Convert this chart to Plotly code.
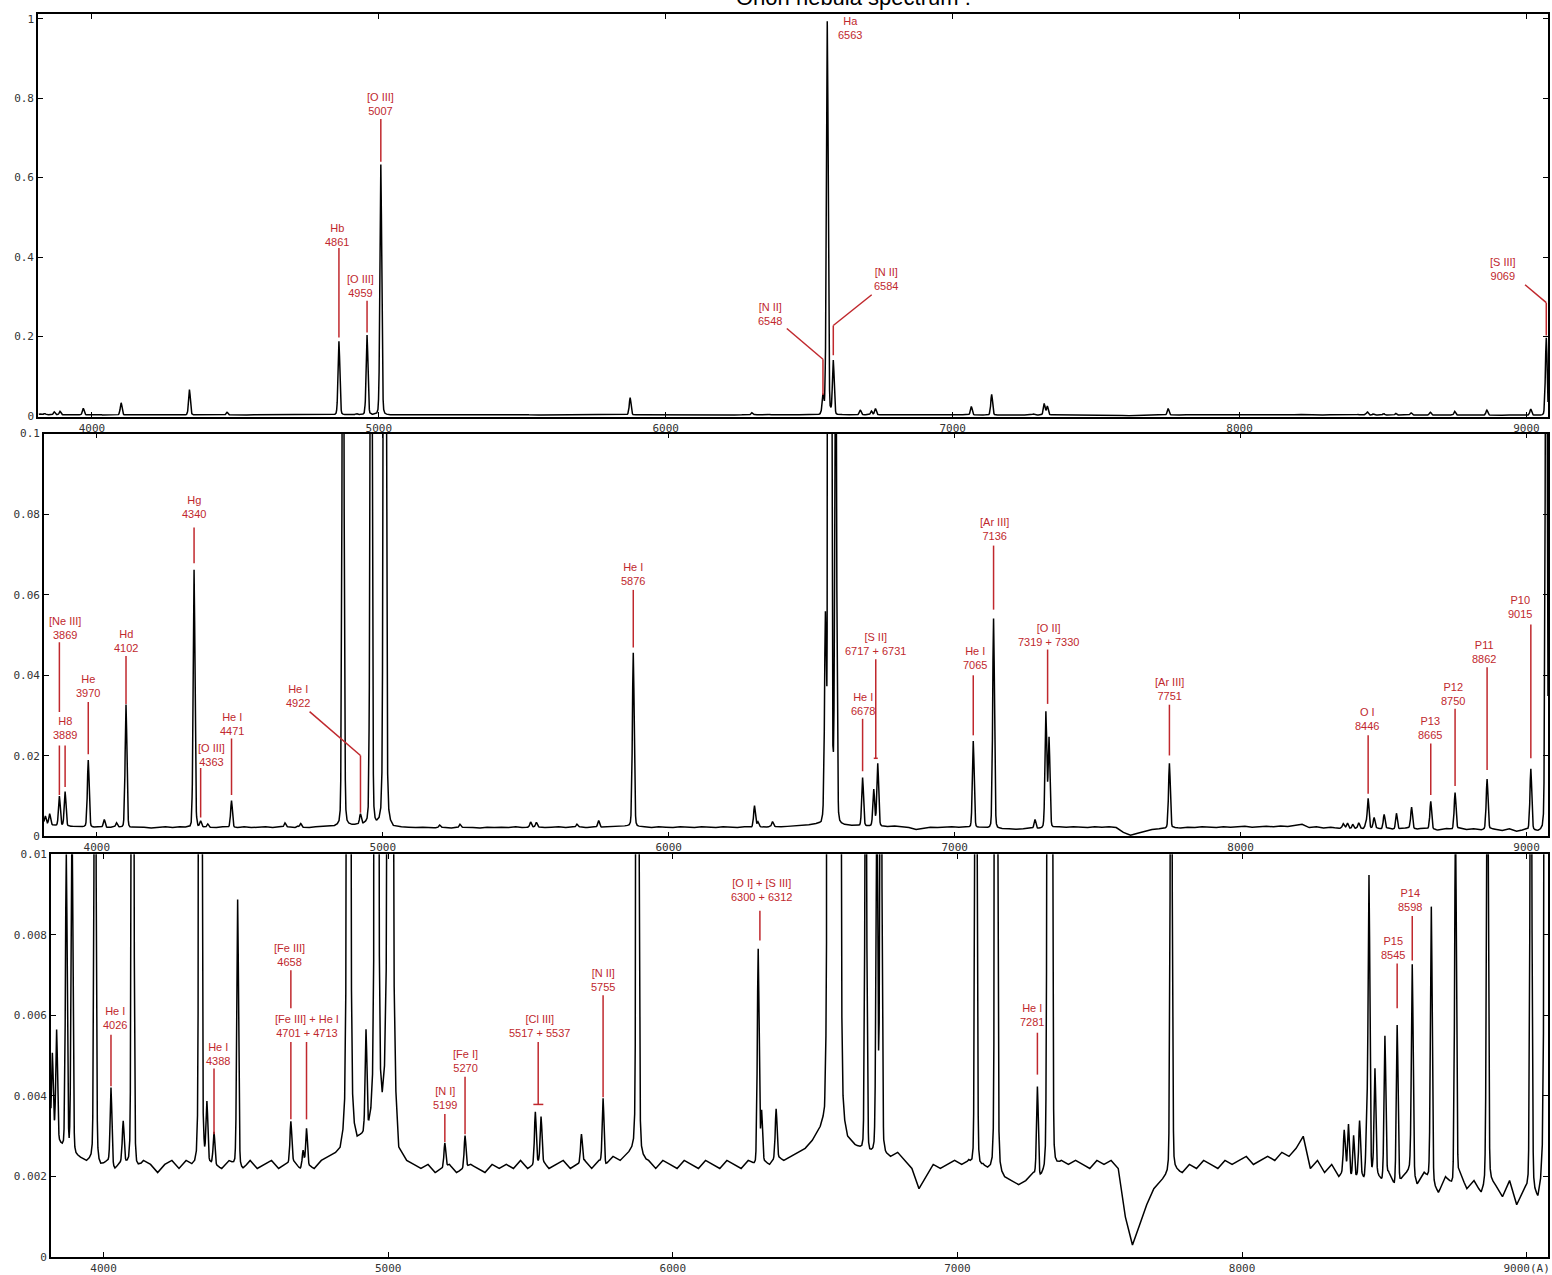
import numpy as np
import plotly.graph_objects as go

# ---------------- DATA ----------------
# continuum level, sampled every 25 A starting at 3815 A
cont_start = 3815
cont_step = 25
cont_flux = [
    0.0031, 0.0029, 0.0027, 0.0026, 0.0025, 0.0024, 0.0025, 0.0023,
    0.0024, 0.0022, 0.0024, 0.0023, 0.0022, 0.0024, 0.0023, 0.0021,
    0.0023, 0.0024, 0.0022, 0.0024, 0.0023, 0.0022, 0.0024, 0.0023,
    0.0022, 0.0024, 0.0023, 0.0022, 0.0024, 0.0022, 0.0023, 0.0024,
    0.0022, 0.0023, 0.0024, 0.0022, 0.0023, 0.0022, 0.0024, 0.0025,
    0.0026, 0.0028, 0.0029, 0.0030, 0.0031, 0.0033, 0.0035, 0.0034,
    0.0030, 0.0027, 0.0024, 0.0023, 0.0022, 0.0023, 0.0021, 0.0022,
    0.0023, 0.0021, 0.0022, 0.0023, 0.0022, 0.0021, 0.0023, 0.0022,
    0.0023, 0.0022, 0.0024, 0.0022, 0.0023, 0.0024, 0.0022, 0.0023,
    0.0024, 0.0022, 0.0023, 0.0024, 0.0022, 0.0024, 0.0023, 0.0025,
    0.0024, 0.0026, 0.0027, 0.0025, 0.0024, 0.0022, 0.0024, 0.0023,
    0.0022, 0.0024, 0.0023, 0.0022, 0.0024, 0.0023, 0.0022, 0.0024,
    0.0023, 0.0022, 0.0024, 0.0023, 0.0024, 0.0023, 0.0025, 0.0024,
    0.0025, 0.0026, 0.0027, 0.0029, 0.0032, 0.0036, 0.0036, 0.0033,
    0.0030, 0.0028, 0.0027, 0.0026, 0.0027, 0.0026, 0.0025, 0.0026,
    0.0024, 0.0022, 0.0017, 0.0020, 0.0023, 0.0022, 0.0023, 0.0024,
    0.0023, 0.0024, 0.0022, 0.0023, 0.0022, 0.0021, 0.0020, 0.0019,
    0.0018, 0.0019, 0.0021, 0.0020, 0.0022, 0.0023, 0.0024, 0.0023,
    0.0024, 0.0023, 0.0022, 0.0024, 0.0023, 0.0024, 0.0022, 0.0010,
    0.0003, 0.0008, 0.0013, 0.0017, 0.0019, 0.0021, 0.0022, 0.0021,
    0.0023, 0.0022, 0.0024, 0.0023, 0.0022, 0.0024, 0.0023, 0.0024,
    0.0025, 0.0023, 0.0024, 0.0025, 0.0024, 0.0026, 0.0025, 0.0027,
    0.0030, 0.0022, 0.0024, 0.0021, 0.0023, 0.0020, 0.0022, 0.0019,
    0.0021, 0.0018, 0.0022, 0.0019, 0.0021, 0.0017, 0.0020, 0.0022,
    0.0018, 0.0021, 0.0019, 0.0016, 0.0020, 0.0018, 0.0021, 0.0017,
    0.0019, 0.0016, 0.0020, 0.0018, 0.0015, 0.0019, 0.0013, 0.0017,
    0.0018, 0.0015, 0.0017,
]

# emission lines: wavelength (A) and peak height above the continuum
line_wl = [3820, 3835, 3869, 3889, 3970, 4026, 4069, 4102, 4340, 4363,
           4388, 4471, 4658, 4701, 4713, 4861, 4922, 4959, 5007, 5199,
           5270, 5517, 5537, 5679, 5755, 5876, 6300, 6312, 6363, 6548,
           6563, 6584, 6678, 6717, 6731, 7065, 7136, 7281, 7319, 7330,
           7751, 8359, 8374, 8392, 8413, 8438, 8446, 8467, 8502, 8545,
           8598, 8665, 8750, 8862, 9015, 9069]
line_peak = [0.0020, 0.0027, 0.0073, 0.0085, 0.0165, 0.0019, 0.0010, 0.0305, 0.0640, 0.0014,
             0.0008, 0.0066, 0.0010, 0.0004, 0.0009, 0.1850, 0.0025, 0.2000, 0.6300, 0.0006,
             0.0008, 0.0013, 0.0011, 0.0007, 0.0016, 0.0430, 0.0053, 0.0012, 0.0012, 0.0470,
             0.9900, 0.1350, 0.0120, 0.0090, 0.0155, 0.0215, 0.0520, 0.0022, 0.0285, 0.0220,
             0.0160, 0.0010, 0.0012, 0.0011, 0.0013, 0.0014, 0.0075, 0.0025, 0.0035, 0.0040,
             0.0052, 0.0068, 0.0090, 0.0123, 0.0150, 0.1950]

# instrumental line profile (offset in A, relative height)
prof_off = [-30, -20, -14, -10, -8, -6, -4, -2, 0, 2, 4, 6, 8, 10, 14, 20, 30]
prof_shape = [0, 0.002, 0.006, 0.02, 0.06, 0.17, 0.42, 0.8, 1, 0.8, 0.42, 0.17, 0.06, 0.02, 0.006, 0.002, 0]

x_ticks = [4000, 5000, 6000, 7000, 8000, 9000]
x_ticktext_top = ["4000", "5000", "6000", "7000", "8000", "9000"]
x_ticktext_bottom = ["4000", "5000", "6000", "7000", "8000", "9000(A)"]

# labels: text, panel, text position (wavelength, flux), connector segments
labels = [
    ("Ha<br>6563", 1, 6642, 0.976, []),
    ("[O III]<br>5007", 1, 5006, 0.786, [((5007, 0.7475), (5007, 0.64))]),
    ("Hb<br>4861", 1, 4856, 0.456, [((4861, 0.4225), (4861, 0.1975))]),
    ("[O III]<br>4959", 1, 4936, 0.326, [((4959, 0.29), (4959, 0.21))]),
    ("[N II]<br>6548", 1, 6363, 0.256, [((6422, 0.22), (6548, 0.1425)), ((6548, 0.1425), (6548, 0.0525))]),
    ("[N II]<br>6584", 1, 6767, 0.344, [((6718, 0.305), (6584, 0.2275)), ((6584, 0.2275), (6584, 0.1525))]),
    ("[S III]<br>9069", 1, 8918, 0.369, [((8995, 0.33), (9069, 0.285)), ((9069, 0.285), (9069, 0.2025))]),

    ("[Ne III]<br>3869", 2, 3888, 0.0517, [((3869, 0.0482), (3869, 0.0309)), ((3869, 0.0226), (3869, 0.0103))]),
    ("H8<br>3889", 2, 3888, 0.0268, [((3889, 0.0226), (3889, 0.0123))]),
    ("He<br>3970", 2, 3969, 0.0373, [((3970, 0.0334), (3970, 0.0204))]),
    ("Hd<br>4102", 2, 4101, 0.0486, [((4102, 0.0448), (4102, 0.0329))]),
    ("Hg<br>4340", 2, 4339, 0.0818, [((4340, 0.0767), (4340, 0.0678))]),
    ("[O III]<br>4363", 2, 4402, 0.0203, [((4363, 0.0170), (4363, 0.0047))]),
    ("He I<br>4471", 2, 4472, 0.0279, [((4471, 0.0243), (4471, 0.0103))]),
    ("He I<br>4922", 2, 4702, 0.0348, [((4744, 0.031), (4922, 0.0201)), ((4922, 0.0201), (4922, 0.0059))]),
    ("He I<br>5876", 2, 5876, 0.0651, [((5876, 0.0612), (5876, 0.0469))]),
    ("[S II]<br>6717 + 6731", 2, 6724, 0.0477, [((6724, 0.044), (6724, 0.0194)), ((6717, 0.0194), (6731, 0.0194))]),
    ("He I<br>6678", 2, 6679, 0.0329, [((6678, 0.0292), (6678, 0.0162))]),
    ("He I<br>7065", 2, 7070, 0.0442, [((7065, 0.040), (7065, 0.0251))]),
    ("[Ar III]<br>7136", 2, 7140, 0.0764, [((7136, 0.0722), (7136, 0.0563))]),
    ("[O II]<br>7319 + 7330", 2, 7329, 0.0501, [((7325, 0.0464), (7325, 0.0329))]),
    ("[Ar III]<br>7751", 2, 7751, 0.0365, [((7751, 0.0327), (7751, 0.0201))]),
    ("O I<br>8446", 2, 8443, 0.0292, [((8446, 0.0251), (8446, 0.0106))]),
    ("P13<br>8665", 2, 8663, 0.0269, [((8665, 0.0231), (8665, 0.0103))]),
    ("P12<br>8750", 2, 8743, 0.0354, [((8750, 0.0317), (8750, 0.0125))]),
    ("P11<br>8862", 2, 8852, 0.0458, [((8862, 0.042), (8862, 0.0165))]),
    ("P10<br>9015", 2, 8977, 0.057, [((9015, 0.0526), (9015, 0.0194))]),

    ("He I<br>4026", 3, 4040, 0.00594, [((4026, 0.00552), (4026, 0.00424))]),
    ("He I<br>4388", 3, 4401, 0.00505, [((4388, 0.00468), (4388, 0.00305))]),
    ("[Fe III]<br>4658", 3, 4654, 0.00751, [((4658, 0.00712), (4658, 0.00618)), ((4658, 0.00534), (4658, 0.00342))]),
    ("[Fe III] + He I<br>4701 + 4713", 3, 4713, 0.00574, [((4713, 0.00534), (4713, 0.00342))]),
    ("[N I]<br>5199", 3, 5201, 0.00394, [((5199, 0.00355), (5199, 0.00286))]),
    ("[Fe I]<br>5270", 3, 5271, 0.00488, [((5270, 0.00448), (5270, 0.00305))]),
    ("[Cl III]<br>5517 + 5537", 3, 5531, 0.00574, [((5527, 0.00534), (5527, 0.00379)), ((5510, 0.00379), (5545, 0.00379))]),
    ("[N II]<br>5755", 3, 5755, 0.00687, [((5755, 0.0065), (5755, 0.00397))]),
    ("[O I] + [S III]<br>6300 + 6312", 3, 6313, 0.00911, [((6306, 0.0086), (6306, 0.00786))]),
    ("He I<br>7281", 3, 7261, 0.00601, [((7281, 0.00557), (7281, 0.00453))]),
    ("P15<br>8545", 3, 8531, 0.00768, [((8545, 0.00729), (8545, 0.00618))]),
    ("P14<br>8598", 3, 8590, 0.00887, [((8598, 0.00847), (8598, 0.00736))]),
]

# ---------------- BUILD SPECTRUM ----------------
cont_wl = cont_start + cont_step * np.arange(len(cont_flux))
pts = set(cont_wl.tolist())
for c in line_wl:
    pts.update((c + np.array(prof_off, dtype=float)).tolist())
wl = np.array(sorted(pts))
wl = wl[(wl >= cont_wl[0]) & (wl <= cont_wl[-1] + 10)]
flux = np.interp(wl, cont_wl, cont_flux)
for c, p in zip(line_wl, line_peak):
    flux = flux + p * np.interp(wl - c, prof_off, prof_shape, left=0, right=0)

# ---------------- FIGURE ----------------
W, H = 1552, 1275
RED = "#c0282d"

# panel geometry in pixels (left, right, top, bottom)
panels = {
    1: dict(px=(38, 1550), py=(8, 415), xr=[3812, 9075], yr=[-0.0025, 1.0125], dt=0.2),
    2: dict(px=(44, 1550), py=(432, 839), xr=[3815, 9075], yr=[0, 0.1], dt=0.02),
    3: dict(px=(51, 1550), py=(857, 1264), xr=[3815, 9075], yr=[0, 0.01], dt=0.002),
}

fig = go.Figure()
tickfont = dict(family="DejaVu Sans Mono", size=11, color="#333333")
layout = dict(width=W, height=H, margin=dict(l=0, r=0, t=0, b=0),
              paper_bgcolor="white", plot_bgcolor="white", showlegend=False)

for k, p in panels.items():
    sx = "" if k == 1 else str(k)
    fig.add_trace(go.Scatter(x=wl, y=flux, mode="lines",
                             line=dict(color="black", width=1.5),
                             xaxis="x" + sx, yaxis="y" + sx, hoverinfo="skip"))
    layout["xaxis" + sx] = dict(
        domain=[p["px"][0] / W, p["px"][1] / W], range=p["xr"], anchor="y" + sx,
        tickvals=x_ticks, ticktext=(x_ticktext_bottom if k == 3 else x_ticktext_top),
        ticks="inside", ticklen=5, tickcolor="black", showline=True, linecolor="black",
        linewidth=1.5, mirror="ticks", showgrid=False, zeroline=False, tickfont=tickfont)
    layout["yaxis" + sx] = dict(
        domain=[1 - p["py"][1] / H, 1 - p["py"][0] / H], range=p["yr"], anchor="x" + sx,
        dtick=p["dt"], tick0=0, ticks="inside", ticklen=5, tickcolor="black", showline=True,
        linecolor="black", linewidth=1.5, mirror="ticks", showgrid=False, zeroline=False,
        tickfont=tickfont)

fig.update_layout(**layout)

annotations = []
shapes = []
for text, k, tx, ty, segs in labels:
    sx = "" if k == 1 else str(k)
    annotations.append(dict(x=tx, y=ty, xref="x" + sx, yref="y" + sx, text=text,
                            showarrow=False, xanchor="center", yanchor="middle",
                            font=dict(family="Liberation Sans", size=11, color=RED)))
    for (x0, y0), (x1, y1) in segs:
        shapes.append(dict(type="line", x0=x0, y0=y0, x1=x1, y1=y1,
                           xref="x" + sx, yref="y" + sx,
                           line=dict(color=RED, width=1.5)))

annotations.append(dict(x=855 / W, y=1, xref="paper", yref="paper",
                        text="Orion nebula spectrum :", showarrow=False,
                        xanchor="center", yanchor="middle", yshift=9,
                        font=dict(family="Liberation Sans", size=22, color="black")))

fig.update_layout(annotations=annotations, shapes=shapes)
fig.write_html("out.html",
               config={"displayModeBar": False},
               post_script="document.body.style.margin='0';"
                           "document.body.style.overflow='hidden';")
